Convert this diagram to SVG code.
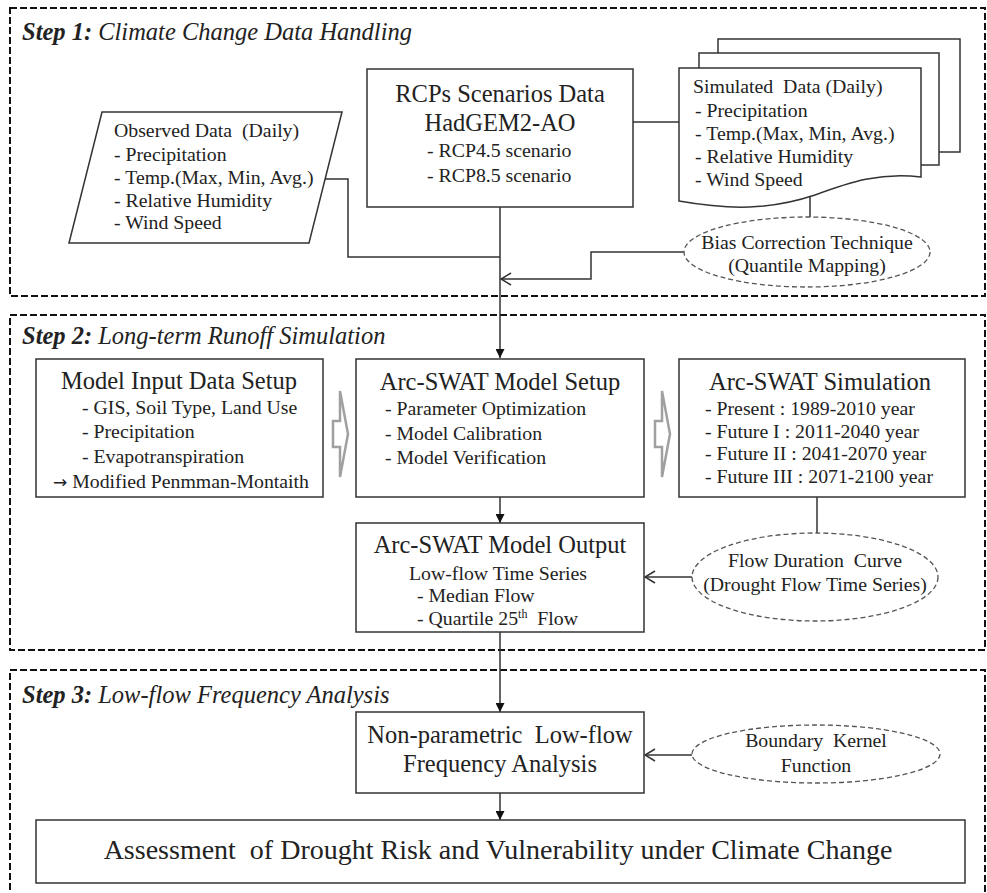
<svg xmlns="http://www.w3.org/2000/svg" width="987" height="893" viewBox="0 0 987 893">
<defs>
<style>
text{font-family:"Liberation Serif","Times New Roman",serif;fill:#222}
.frame{fill:none;stroke:#111;stroke-width:2;stroke-dasharray:7,3}
.box{fill:#fff;stroke:#333;stroke-width:1.5}
.ell{fill:#fff;stroke:#555;stroke-width:1.3;stroke-dasharray:5,3}
.conn{fill:none;stroke:#333;stroke-width:1.5}
.big{font-size:24.5px}
.mid{font-size:19.8px}
.t{font-size:24.5px;font-style:italic}
.t tspan.b{font-weight:bold}
.hollow{fill:#fff;stroke:#a0a0a0;stroke-width:2.5;stroke-linejoin:miter}
</style>
<marker id="fill" viewBox="0 0 10 10" refX="10" refY="5" markerWidth="9" markerHeight="9" markerUnits="userSpaceOnUse" orient="auto">
<path d="M0,0 L10,5 L0,10 z" fill="#111"/>
</marker>
<marker id="open" viewBox="0 0 12 14" refX="11" refY="7" markerWidth="12" markerHeight="14" markerUnits="userSpaceOnUse" orient="auto">
<path d="M1,1 L11,7 L1,13" fill="none" stroke="#333" stroke-width="1.5"/>
</marker>
</defs>

<g id="frames">
<rect class="frame" x="10" y="8" width="975" height="288"/>
<rect class="frame" x="10" y="315" width="975" height="335"/>
<rect class="frame" x="10" y="670" width="975" height="240"/>
<text class="t" x="22" y="40"><tspan class="b">Step 1:</tspan> Climate Change Data Handling</text>
<text class="t" x="22" y="344"><tspan class="b">Step 2:</tspan> Long-term Runoff Simulation</text>
<text class="t" x="22" y="703"><tspan class="b">Step 3:</tspan> Low-flow Frequency Analysis</text>
</g>

<g id="connectors">
<polyline class="conn" points="325,179 348,179 348,257 500,257"/>
<line class="conn" x1="500" y1="207" x2="500" y2="358" marker-end="url(#fill)"/>
<line class="conn" x1="633" y1="122" x2="679" y2="122"/>
<line class="conn" x1="810" y1="196" x2="810" y2="217"/>
<polyline class="conn" points="684,252 591,252 591,279 501,279" marker-end="url(#open)"/>
<line class="conn" x1="500" y1="497" x2="500" y2="523" marker-end="url(#fill)"/>
<line class="conn" x1="817" y1="497" x2="817" y2="533"/>
<line class="conn" x1="692" y1="577" x2="645" y2="577" marker-end="url(#open)"/>
<line class="conn" x1="500" y1="632" x2="500" y2="712" marker-end="url(#fill)"/>
<line class="conn" x1="692" y1="755" x2="645" y2="755" marker-end="url(#open)"/>
<line class="conn" x1="500" y1="793" x2="500" y2="820" marker-end="url(#fill)"/>
<polygon class="hollow" points="333,421 340,421 340,391 348,434 340,477 340,447 333,447"/>
<polygon class="hollow" points="655,421 662,421 662,391 670,434 662,477 662,447 655,447"/>
</g>

<g id="observed">
<polygon class="box" points="102,112 342,112 309,243 69,243"/>
<text class="mid" x="114" y="137" xml:space="preserve">Observed Data  (Daily)</text>
<text class="mid" x="114" y="161">- Precipitation</text>
<text class="mid" x="114" y="184">- Temp.(Max, Min, Avg.)</text>
<text class="mid" x="114" y="207">- Relative Humidity</text>
<text class="mid" x="114" y="229">- Wind Speed</text>
</g>

<g id="rcps">
<rect class="box" x="367" y="69" width="266" height="138"/>
<text class="big" x="500" y="102" text-anchor="middle">RCPs Scenarios Data</text>
<text class="big" x="500" y="131" text-anchor="middle">HadGEM2-AO</text>
<text class="mid" x="427" y="157">- RCP4.5 scenario</text>
<text class="mid" x="427" y="182">- RCP8.5 scenario</text>
</g>

<g id="simulated">
<rect class="box" x="718" y="39" width="242" height="113"/>
<rect class="box" x="699" y="53" width="240" height="112"/>
<path class="box" d="M679,68 H921 V177 C880,172 850,182 815,195 C770,210 730,210 679,201 Z"/>
<text class="mid" x="693" y="93" xml:space="preserve">Simulated  Data (Daily)</text>
<text class="mid" x="695" y="117">- Precipitation</text>
<text class="mid" x="695" y="140">- Temp.(Max, Min, Avg.)</text>
<text class="mid" x="695" y="163">- Relative Humidity</text>
<text class="mid" x="695" y="186">- Wind Speed</text>
</g>

<g id="bias">
<ellipse class="ell" cx="807" cy="252" rx="123" ry="35"/>
<text class="mid" x="807" y="249" text-anchor="middle">Bias Correction Technique</text>
<text class="mid" x="807" y="272" text-anchor="middle">(Quantile Mapping)</text>
</g>

<g id="input">
<rect class="box" x="36" y="359" width="287" height="138"/>
<text class="big" x="179" y="389" text-anchor="middle">Model Input Data Setup</text>
<text class="mid" x="82" y="414">- GIS, Soil Type, Land Use</text>
<text class="mid" x="82" y="438">- Precipitation</text>
<text class="mid" x="82" y="463">- Evapotranspiration</text>
<text class="mid" x="53" y="488"><tspan font-family="DejaVu Sans" font-size="17">→</tspan> Modified Penmman-Montaith</text>
</g>

<g id="setup">
<rect class="box" x="356" y="359" width="288" height="138"/>
<text class="big" x="500" y="390" text-anchor="middle">Arc-SWAT Model Setup</text>
<text class="mid" x="385" y="415">- Parameter Optimization</text>
<text class="mid" x="385" y="440">- Model Calibration</text>
<text class="mid" x="385" y="464">- Model Verification</text>
</g>

<g id="simulation">
<rect class="box" x="679" y="359" width="286" height="138"/>
<text class="big" x="820" y="390" text-anchor="middle">Arc-SWAT Simulation</text>
<text class="mid" x="705" y="415">- Present : 1989-2010 year</text>
<text class="mid" x="705" y="438">- Future I : 2011-2040 year</text>
<text class="mid" x="705" y="460">- Future II : 2041-2070 year</text>
<text class="mid" x="705" y="483">- Future III : 2071-2100 year</text>
</g>

<g id="output">
<rect class="box" x="356" y="523" width="288" height="109"/>
<text class="big" x="500" y="553" text-anchor="middle">Arc-SWAT Model Output</text>
<text class="mid" x="498" y="580" text-anchor="middle">Low-flow Time Series</text>
<text class="mid" x="417" y="602">- Median Flow</text>
<text class="mid" x="417" y="625" xml:space="preserve">- Quartile 25<tspan font-size="12" dy="-7">th</tspan><tspan dy="7">  Flow</tspan></text>
</g>

<g id="fdc">
<ellipse class="ell" cx="815" cy="577" rx="123" ry="44"/>
<text class="mid" x="815" y="567" text-anchor="middle" xml:space="preserve">Flow Duration  Curve</text>
<text class="mid" x="815" y="591" text-anchor="middle">(Drought Flow Time Series)</text>
</g>

<g id="nonparam">
<rect class="box" x="356" y="712" width="288" height="81"/>
<text class="big" x="500" y="743" text-anchor="middle" xml:space="preserve">Non-parametric  Low-flow</text>
<text class="big" x="500" y="772" text-anchor="middle">Frequency Analysis</text>
</g>

<g id="kernel">
<ellipse class="ell" cx="816" cy="754" rx="124" ry="29"/>
<text class="mid" x="816" y="747" text-anchor="middle" xml:space="preserve">Boundary  Kernel</text>
<text class="mid" x="816" y="772" text-anchor="middle">Function</text>
</g>

<g id="assessment">
<rect class="box" x="36" y="820" width="929" height="63"/>
<text x="498" y="859" text-anchor="middle" font-size="28" xml:space="preserve">Assessment  of Drought Risk and Vulnerability under Climate Change</text>
</g>
</svg>
